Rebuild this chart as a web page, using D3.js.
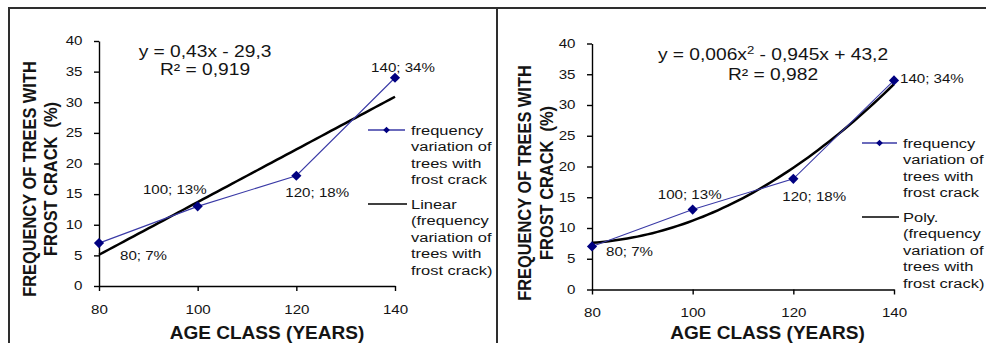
<!DOCTYPE html>
<html>
<head>
<meta charset="utf-8">
<script src="https://cdn.jsdelivr.net/npm/d3@7"></script>
<style>
  html, body { margin: 0; padding: 0; background: #fff; }
  svg { display: block; font-family: "Liberation Sans", Arial, sans-serif; }
  text { white-space: pre; }
</style>
</head>
<body>
<div id="chart"></div>
<script>
// data
const ageClass = [80, 100, 120, 140];
const frostCrack = [7, 13, 18, 34];
const xTicks = [80, 100, 120, 140];
const yTicks = [0, 5, 10, 15, 20, 25, 30, 35, 40];

const seriesName = ['frequency', 'variation of', 'trees with', 'frost crack'];
const linearName = ['Linear', '(frequency', 'variation of', 'trees with', 'frost crack)'];
const polyName = ['Poly.', '(frequency', 'variation of', 'trees with', 'frost crack)'];
const yTitle = ['FREQUENCY OF TREES WITH', 'FROST CRACK  (%)'];
const xTitle = 'AGE CLASS (YEARS)';

const W = 986, H = 343;
const TEXT = '#141414';
const SX = 1.26; // the original text is horizontally stretched

const svg = d3.select('#chart').append('svg')
  .attr('width', W).attr('height', H);
svg.append('rect').attr('width', W).attr('height', H).attr('fill', '#fff');

// panel frame
const frame = svg.append('g').attr('stroke', '#2e2e2e').attr('stroke-width', 2).attr('fill', 'none');
frame.append('line').attr('x1', 9).attr('y1', 8).attr('x2', 9).attr('y2', H);
frame.append('line').attr('x1', 8).attr('y1', 8).attr('x2', W).attr('y2', 8);
frame.append('line').attr('x1', 497).attr('y1', 8).attr('x2', 497).attr('y2', H);

// least squares polynomial fit
const polyfit = (xs, ys, deg) => {
  const n = deg + 1;
  const A = d3.range(n).map((i) => d3.range(n).map((j) => d3.sum(xs, (x) => Math.pow(x, i + j))));
  const b = d3.range(n).map((i) => d3.sum(xs, (x, k) => Math.pow(x, i) * ys[k]));
  for (let c = 0; c < n; c++) {
    for (let r = c + 1; r < n; r++) {
      const f = A[r][c] / A[c][c];
      for (let k = c; k < n; k++) A[r][k] -= f * A[c][k];
      b[r] -= f * b[c];
    }
  }
  const coef = new Array(n).fill(0);
  for (let r = n - 1; r >= 0; r--) {
    let s = b[r];
    for (let k = r + 1; k < n; k++) s -= A[r][k] * coef[k];
    coef[r] = s / A[r][r];
  }
  return (x) => coef.reduce((acc, c, i) => acc + c * Math.pow(x, i), 0);
};

const addText = (g, x, y, str, o = {}) =>
  g.append('text')
    .attr('transform', `translate(${x},${y}) scale(${o.sx || SX},1)`)
    .attr('text-anchor', o.anchor || 'start')
    .attr('font-size', o.size || 12)
    .attr('font-weight', o.weight || 'normal')
    .attr('fill', TEXT)
    .text(str);

const panels = [
  {
    x0: 99, x1: 395, y0: 286, y1: 41, degree: 1,
    eq: [['y = 0,43x - 29,3'], ['R² = 0,919']], eqX: 205, eqY: [57, 75],
    legend: { x1: 368, x2: 405, tx: 411, yA: 130, yB: 204, names: linearName },
    yTitleX: [29, 50], yTitleY: 179, xTitleX: 267,
    labels: [
      { dx: 21, dy: 13, anchor: 'start' },
      { dx: 9, dy: -17, anchor: 'end' },
      { dx: -11, dy: 17, anchor: 'start' },
      { dx: 8, dy: -10, anchor: 'middle' },
    ],
  },
  {
    x0: 592, x1: 894, y0: 289.5, y1: 43.5, degree: 2,
    eq: [['y = 0,006x', '2', ' - 0,945x + 43,2'], ['R² = 0,982']], eqX: 773, eqY: [60, 80],
    legend: { x1: 862, x2: 897, tx: 903, yA: 143, yB: 217, names: polyName },
    yTitleX: [524, 546], yTitleY: 183, xTitleX: 767.5,
    labels: [
      { dx: 14, dy: 5, anchor: 'start' },
      { dx: -3, dy: -15, anchor: 'middle' },
      { dx: -11, dy: 18, anchor: 'start' },
      { dx: 6, dy: -2, anchor: 'start' },
    ],
  },
];

const diamond = (size) => d3.symbol(d3.symbolSquare, size)();

panels.forEach((p) => {
  const g = svg.append('g');
  const x = d3.scaleLinear().domain([80, 140]).range([p.x0, p.x1]);
  const y = d3.scaleLinear().domain([0, 40]).range([p.y0, p.y1]);

  // axes
  const gy = g.append('g')
    .attr('transform', `translate(${p.x0},0)`)
    .call(d3.axisLeft(y).tickValues(yTicks).tickSize(5).tickSizeOuter(0));
  const gx = g.append('g')
    .attr('transform', `translate(0,${p.y0})`)
    .call(d3.axisBottom(x).tickValues(xTicks).tickSize(5).tickSizeOuter(0));

  [gy, gx].forEach((a) => {
    a.attr('font-family', null).attr('font-size', 12);
    a.selectAll('path, line').attr('stroke', '#000').attr('stroke-width', 1.4);
    a.selectAll('text').attr('fill', TEXT);
  });
  gy.selectAll('text').attr('x', null)
    .attr('transform', `translate(-16.5,0) scale(${SX},1)`);
  gx.selectAll('text').attr('y', null).attr('dy', null)
    .attr('transform', `translate(0,27.8) scale(${SX},1)`);

  // trend line fitted from the data
  const fit = polyfit(ageClass, frostCrack, p.degree);
  const xs = d3.range(80, 140.01, 1);
  g.append('path')
    .datum(xs)
    .attr('fill', 'none')
    .attr('stroke', '#000')
    .attr('stroke-width', 2.5)
    .attr('d', d3.line().x((d) => x(d)).y((d) => y(fit(d))));

  // data series
  const pts = ageClass.map((a, i) => ({ a, v: frostCrack[i] }));
  g.append('path')
    .datum(pts)
    .attr('fill', 'none')
    .attr('stroke', '#3a3aa6')
    .attr('stroke-width', 1.1)
    .attr('d', d3.line().x((d) => x(d.a)).y((d) => y(d.v)));

  g.selectAll('.marker')
    .data(pts)
    .join('path')
    .attr('class', 'marker')
    .attr('fill', '#000080')
    .attr('d', diamond(52))
    .attr('transform', (d) => `translate(${x(d.a)},${y(d.v)}) rotate(45)`);

  // data labels
  pts.forEach((d, i) => {
    const o = p.labels[i];
    addText(g, x(d.a) + o.dx, y(d.v) + o.dy + 4.3, `${d.a}; ${d.v}%`, { anchor: o.anchor, size: 12 });
  });

  // equation
  p.eq.forEach((parts, i) => {
    const t = addText(g, p.eqX, p.eqY[i], '', { anchor: 'middle', size: 16, sx: 1.2 });
    parts.forEach((s, k) => {
      const sup = parts.length === 3 && k === 1;
      t.append('tspan')
        .attr('font-size', sup ? 11 : null)
        .attr('dy', sup ? -6 : (k === 2 ? 6 : null))
        .text(s);
    });
  });

  // legend
  const L = p.legend;
  g.append('line').attr('x1', L.x1).attr('x2', L.x2).attr('y1', L.yA).attr('y2', L.yA)
    .attr('stroke', '#3a3aa6').attr('stroke-width', 1.3);
  g.append('path').attr('d', diamond(22)).attr('fill', '#000080')
    .attr('transform', `translate(${(L.x1 + L.x2) / 2},${L.yA}) rotate(45)`);
  seriesName.forEach((s, i) => addText(g, L.tx, L.yA + i * 16.4 + 4.8, s, { size: 13.5, sx: 1.22 }));
  g.append('line').attr('x1', L.x1).attr('x2', L.x2 + 2).attr('y1', L.yB).attr('y2', L.yB)
    .attr('stroke', '#000').attr('stroke-width', 1.3);
  L.names.forEach((s, i) => addText(g, L.tx, L.yB + i * 16.5 + 4.8, s, { size: 13.5, sx: 1.22 }));

  // axis titles
  yTitle.forEach((s, i) => {
    g.append('text')
      .attr('transform', `translate(${p.yTitleX[i]},${p.yTitleY}) rotate(-90) scale(1,1.15)`)
      .attr('text-anchor', 'middle')
      .attr('dy', '0.35em')
      .attr('font-size', 16.4)
      .attr('font-weight', 'bold')
      .attr('fill', TEXT)
      .text(s);
  });
  addText(g, p.xTitleX, 339, xTitle, { anchor: 'middle', size: 18.5, weight: 'bold', sx: 1.03 });
});
</script>
</body>
</html>
